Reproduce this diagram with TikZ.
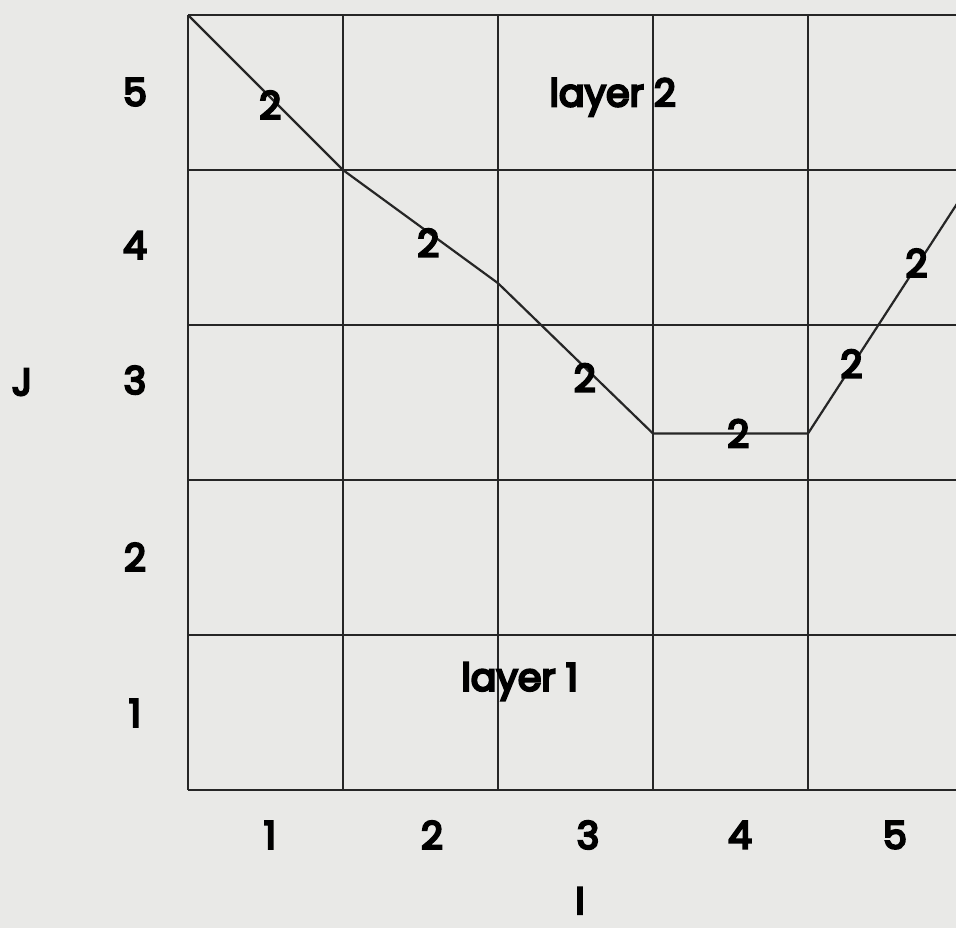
\documentclass[tikz,border=0pt]{standalone}
\usepackage{fontspec}
\setmainfont{Poppins}[FakeBold=6]
\begin{document}
\begin{tikzpicture}[x=77.5pt,y=77.5pt,
  gridline/.style={line width=1.4pt, black!85},
  profile/.style={line width=1.1pt, black!85},
  lbl/.style={font=\fontsize{19}{22}\selectfont, text=black, inner sep=0pt},
]
\definecolor{paper}{RGB}{233,233,231}
\useasboundingbox (-1.213,-0.890) rectangle (4.955,5.097);
\fill[paper] (-1.213,-0.890) rectangle (4.955,5.097);
\begin{scope}
\clip (-1.213,-0.890) rectangle (4.955,5.097);
\foreach \i in {0,...,4} \draw[gridline] (\i,0) -- (\i,5);
\foreach \j in {0,...,5} \draw[gridline] (0,\j) -- (5.2,\j);
\coordinate (p0) at (0,5);
\coordinate (p1) at (1,4);
\coordinate (p2) at (2,3.27);
\coordinate (p3) at (3,2.3);
\coordinate (p4) at (4,2.3);
\coordinate (p5) at (5.2,4.15);
\draw[profile] (p0) -- (p1) -- (p2) -- (p3) -- (p4) -- (p5);
\end{scope}
% layer values
\node[lbl] (v1) at (0.53,4.42) {2};
\node[lbl] (v2) at (1.55,3.53) {2};
\node[lbl] (v3) at (2.56,2.66) {2};
\node[lbl] (v4) at (3.55,2.30) {2};
\node[lbl] (v5) at (4.28,2.75) {2};
\node[lbl] (v6) at (4.70,3.40) {2};
\node[lbl] (layer2) at (2.74,4.47) {layer 2};
\node[lbl] (layer1) at (2.14,0.70) {layer 1};
% row numbers
\node[lbl] (J) at (-1.071,2.632) {J};
\node[lbl] (r5) at (-0.342,4.503) {5};
\node[lbl] (r4) at (-0.342,3.516) {4};
\node[lbl] (r3) at (-0.342,2.645) {3};
\node[lbl] (r2) at (-0.342,1.503) {2};
\node[lbl] (r1) at (-0.342,0.497) {1};
% column numbers
\node[lbl] (c1) at (0.529,-0.29) {1};
\node[lbl] (c2) at (1.574,-0.29) {2};
\node[lbl] (c3) at (2.581,-0.29) {3};
\node[lbl] (c4) at (3.561,-0.29) {4};
\node[lbl] (c5) at (4.561,-0.29) {5};
\node[lbl] (I) at (2.529,-0.715) {I};
\end{tikzpicture}
\end{document}
